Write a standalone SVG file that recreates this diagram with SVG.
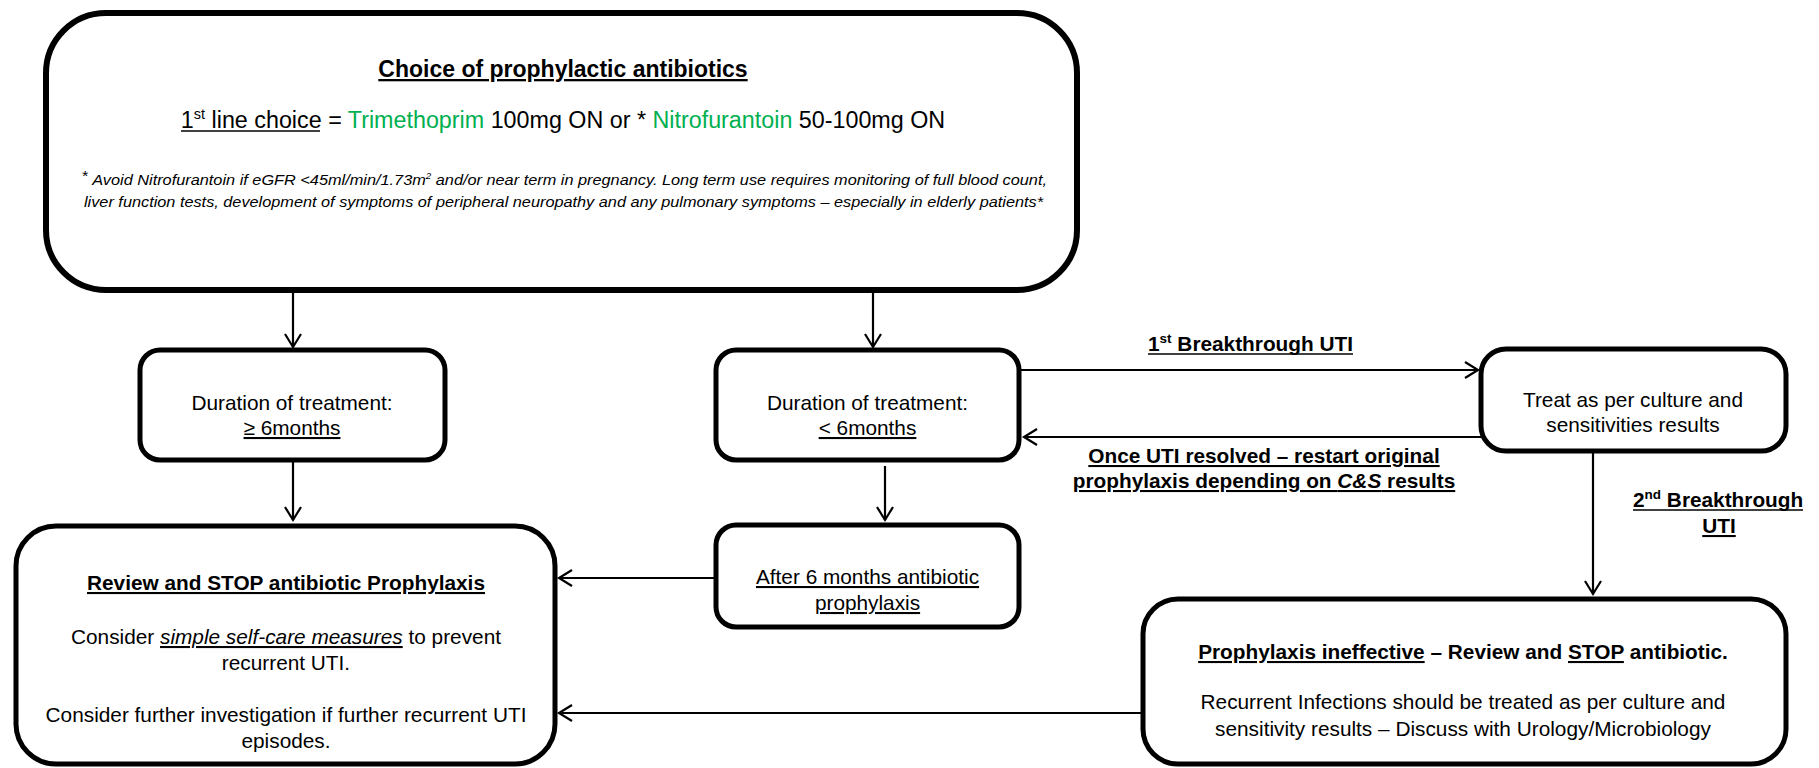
<svg xmlns="http://www.w3.org/2000/svg" width="1819" height="768" viewBox="0 0 1819 768">
<style>
text{font-family:"Liberation Sans",Arial,sans-serif;fill:#000;}
.box{fill:#fff;stroke:#000;stroke-width:5;}
.big{stroke-width:6;}
.t{font-size:20.8px;text-anchor:middle;}
.b{font-weight:bold;}
.u{text-decoration:underline;}
.g{fill:#00B050;}
.c{fill:none;stroke:#000;stroke-width:2.2;marker-end:url(#ah);}
.ul{stroke:#000;stroke-width:1.7;}
.fn{font-size:15px;font-style:italic;}
</style>
<defs>
<marker id="ah" markerWidth="18" markerHeight="20" refX="14" refY="9" orient="auto" markerUnits="userSpaceOnUse">
<path d="M1,1 L14,9 L1,17" fill="none" stroke="#000" stroke-width="2.2"/>
</marker>
</defs>
<rect width="1819" height="768" fill="#fff"/>

<g id="connectors">
<line class="c" x1="293" y1="291" x2="293" y2="347"/>
<line class="c" x1="873" y1="291" x2="873" y2="347"/>
<line class="c" x1="293" y1="462" x2="293" y2="520"/>
<line class="c" x1="885" y1="466" x2="885" y2="520"/>
<line class="c" x1="1021" y1="370" x2="1478" y2="370"/>
<line class="c" x1="1481" y1="437" x2="1024" y2="437"/>
<line class="c" x1="1593" y1="453" x2="1593" y2="594"/>
<line class="c" x1="716" y1="578" x2="559" y2="578"/>
<line class="c" x1="1142" y1="713" x2="559" y2="713"/>
<text class="b" x="1148" y="351" font-size="20.8px">1<tspan font-size="13.5px" dy="-8">st</tspan><tspan dy="8"> Breakthrough UTI</tspan></text>
<line class="ul" x1="1148" y1="354" x2="1353" y2="354"/>
<text class="t b" x="1264" y="463"><tspan class="u">Once UTI resolved – restart original</tspan></text>
<text class="t b" x="1264" y="488"><tspan class="u">prophylaxis depending on <tspan font-style="italic">C&amp;S</tspan> results</tspan></text>
<text class="b" x="1633" y="507" font-size="20.8px">2<tspan font-size="13.5px" dy="-8">nd</tspan><tspan dy="8"> Breakthrough</tspan></text>
<line class="ul" x1="1633" y1="510" x2="1803" y2="510"/>
<text class="t b" x="1719" y="533"><tspan class="u">UTI</tspan></text>
</g>

<g id="node-choice">
<rect class="box big" x="46" y="13" width="1031" height="277" rx="60" ry="60"/>
<text class="b" x="563" y="77" font-size="23px" text-anchor="middle"><tspan class="u">Choice of prophylactic antibiotics</tspan></text>
<text x="563" y="128" font-size="23.3px" text-anchor="middle">1<tspan font-size="14.5px" dy="-9">st</tspan><tspan dy="9"> line choice</tspan> = <tspan class="g">Trimethoprim</tspan> 100mg ON or * <tspan class="g">Nitrofurantoin</tspan> 50-100mg ON</text>
<line class="ul" x1="181" y1="131" x2="320" y2="131"/>
<text class="fn" x="82" y="185" textLength="965" lengthAdjust="spacingAndGlyphs"><tspan font-style="normal" dy="-4">*</tspan><tspan dy="4"> Avoid Nitrofurantoin if eGFR &lt;45ml/min/1.73m</tspan><tspan font-size="9px" dy="-6">2</tspan><tspan dy="6"> and/or near term in pregnancy. Long term use requires monitoring of full blood count,</tspan></text>
<text class="fn" x="84" y="207" textLength="959" lengthAdjust="spacingAndGlyphs">liver function tests, development of symptoms of peripheral neuropathy and any pulmonary symptoms – especially in elderly patients*</text>
</g>

<g id="node-ge6">
<rect class="box" x="140" y="350" width="305" height="110" rx="20" ry="20"/>
<text class="t" x="292" y="410">Duration of treatment:</text>
<text class="t" x="292" y="435"><tspan class="u">≥ 6months</tspan></text>
</g>

<g id="node-lt6">
<rect class="box" x="716" y="350" width="303" height="110" rx="20" ry="20"/>
<text class="t" x="867.5" y="410">Duration of treatment:</text>
<text class="t" x="867.5" y="435"><tspan class="u">&lt; 6months</tspan></text>
</g>

<g id="node-treat">
<rect class="box" x="1481" y="349" width="305" height="102" rx="25" ry="25"/>
<text class="t" x="1633" y="407">Treat as per culture and</text>
<text class="t" x="1633" y="432">sensitivities results</text>
</g>

<g id="node-after6">
<rect class="box" x="716" y="525" width="303" height="102" rx="20" ry="20"/>
<text class="t" x="867.5" y="584"><tspan class="u">After 6 months antibiotic</tspan></text>
<text class="t" x="867.5" y="610"><tspan class="u">prophylaxis</tspan></text>
</g>

<g id="node-review">
<rect class="box" x="16" y="526" width="539" height="238" rx="40" ry="40"/>
<text class="t b" x="286" y="590"><tspan class="u">Review and STOP antibiotic Prophylaxis</tspan></text>
<text class="t" x="286" y="644">Consider <tspan class="u" font-style="italic">simple self-care measures</tspan> to prevent</text>
<text class="t" x="286" y="670">recurrent UTI.</text>
<text class="t" x="286" y="722">Consider further investigation if further recurrent UTI</text>
<text class="t" x="286" y="748">episodes.</text>
</g>

<g id="node-ineffective">
<rect class="box" x="1143" y="599" width="643" height="165" rx="35" ry="35"/>
<text class="t b" x="1463" y="659"><tspan class="u">Prophylaxis ineffective</tspan> – Review and <tspan class="u">STOP</tspan> antibiotic.</text>
<text class="t" x="1463" y="709">Recurrent Infections should be treated as per culture and</text>
<text class="t" x="1463" y="736">sensitivity results – Discuss with Urology/Microbiology</text>
</g>
</svg>
